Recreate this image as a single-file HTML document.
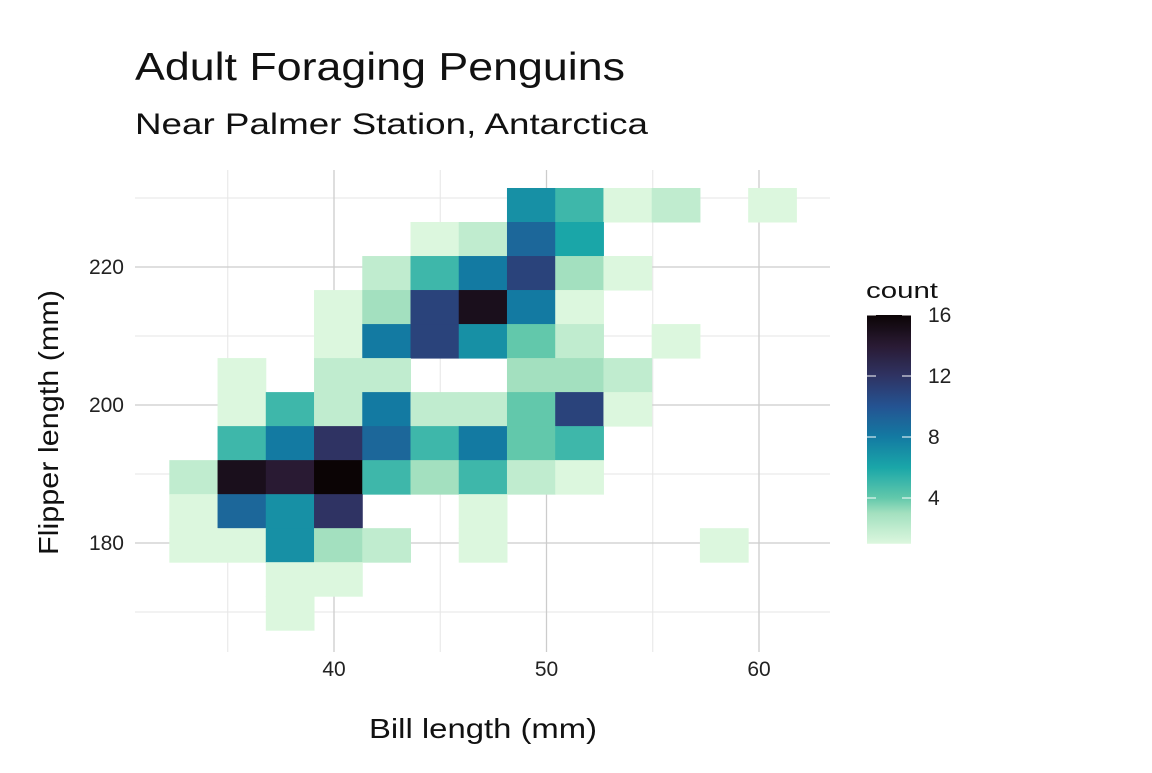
<!DOCTYPE html>
<html><head><meta charset="utf-8"><style>
body{margin:0;background:#fff;}
svg text{font-family:"Liberation Sans",sans-serif;}
</style></head><body>
<svg id="chart" width="1152" height="768" xmlns="http://www.w3.org/2000/svg">
<text x="135" y="80" font-size="39" fill="#111" textLength="490" lengthAdjust="spacingAndGlyphs">Adult Foraging Penguins</text>
<text x="135" y="134" font-size="30" fill="#111" textLength="513" lengthAdjust="spacingAndGlyphs">Near Palmer Station, Antarctica</text>
<g id="grid"></g>
<g id="cells"></g>
<g id="axes"></g>
<text x="369" y="738" font-size="28" fill="#111" textLength="228" lengthAdjust="spacingAndGlyphs">Bill length (mm)</text>
<text transform="translate(58,555) rotate(-90)" font-size="28" fill="#111" textLength="265" lengthAdjust="spacingAndGlyphs">Flipper length (mm)</text>
<g id="legend">
<text x="866" y="298" font-size="22" fill="#111" textLength="72" lengthAdjust="spacingAndGlyphs">count</text>
</g>
</svg>
<script>
// bin edges (mm)
const xStart = 32.25, xStep = 2.27;
const yTop = 231.45, yStep = 4.93;
// counts per row (top to bottom), per column
const rowCounts = [
 [0,0,0,0,0,0,0,7,5,1,2,0,1],
 [0,0,0,0,0,1,2,9,6,0,0,0,0],
 [0,0,0,0,2,5,8,11,3,1,0,0,0],
 [0,0,0,1,3,11,15,8,1,0,0,0,0],
 [0,0,0,1,8,11,7,4,2,0,1,0,0],
 [0,1,0,2,2,0,0,3,3,2,0,0,0],
 [0,1,5,2,8,2,2,4,11,1,0,0,0],
 [0,5,8,12,9,5,8,4,5,0,0,0,0],
 [2,15,14,16,5,3,5,2,1,0,0,0,0],
 [1,9,7,12,0,0,1,0,0,0,0,0,0],
 [1,1,7,3,2,0,1,0,0,0,0,1,0],
 [0,0,1,1,0,0,0,0,0,0,0,0,0],
 [0,0,1,0,0,0,0,0,0,0,0,0,0]
];
const xTicks = [40,50,60];
const xMinor = [35,45,55];
const yTicks = [180,200,220];
const yMinor = [170,190,210,230];
const legendTicks = [4,8,12,16];
const countMin = 1, countMax = 16;

const X = v => 334 + (v-40)*21.25;
const Y = v => 267 - (v-220)*6.9;
const NS = "http://www.w3.org/2000/svg";
function mk(tag, attrs, parent){const e=document.createElementNS(NS,tag);for(const k in attrs)e.setAttribute(k,attrs[k]);parent.appendChild(e);return e;}
const stops=[[1,[220,247,222]],[3,[163,224,191]],[4,[98,200,171]],[6,[26,166,168]],[8,[19,122,162]],[10,[36,83,146]],[12,[47,51,99]],[14,[41,26,51]],[16,[11,4,5]]];
function col(c){for(let i=0;i<stops.length-1;i++){const a=stops[i],b=stops[i+1];if(c<=b[0]){const t=Math.max(0,(c-a[0])/(b[0]-a[0]));const r=a[1].map((v,j)=>Math.round(v+(b[1][j]-v)*t));return `rgb(${r})`;}}return 'rgb(11,4,5)';}

const grid=document.getElementById('grid');
xMinor.forEach(v=>{const l=mk('line',{x1:X(v),x2:X(v),y1:170,y2:652,stroke:'#e6e6e6','stroke-width':1},grid);});
yMinor.forEach(v=>{const l=mk('line',{x1:135,x2:830,y1:Y(v),y2:Y(v),stroke:'#e6e6e6','stroke-width':1},grid);});
xTicks.forEach(v=>{const l=mk('line',{x1:X(v),x2:X(v),y1:170,y2:652,stroke:'#cccccc','stroke-width':1.3},grid);});
yTicks.forEach(v=>{const l=mk('line',{x1:135,x2:830,y1:Y(v),y2:Y(v),stroke:'#cccccc','stroke-width':1.3},grid);});

const cells=document.getElementById('cells');
rowCounts.forEach((row,r)=>row.forEach((c,ci)=>{if(!c)return;
 const x0=X(xStart+ci*xStep),x1=X(xStart+(ci+1)*xStep),y0=Y(yTop-r*yStep),y1=Y(yTop-(r+1)*yStep);
 const e=mk('rect',{x:x0,y:y0,width:x1-x0+0.5,height:y1-y0+0.5,fill:col(c)},cells);
 
 
}));

const axes=document.getElementById('axes');
xTicks.forEach(v=>{const t=mk('text',{x:X(v),y:676,'font-size':21,'text-anchor':'middle',fill:'#222'},axes);t.textContent=v;});
yTicks.forEach(v=>{const t=mk('text',{x:124,y:Y(v)+7,'font-size':21,'text-anchor':'end',fill:'#222'},axes);t.textContent=v;});

const leg=document.getElementById('legend');
const L=v=>543.75-(v-1)*15.25;
const defs=mk('defs',{},leg);
const g=mk('linearGradient',{id:'lg',x1:0,y1:1,x2:0,y2:0},defs);
for(let v=countMin;v<=countMax;v+=0.5){mk('stop',{offset:(v-countMin)/(countMax-countMin),'stop-color':col(v)},g);}
const bar=mk('rect',{x:867,y:L(countMax),width:44,height:L(countMin)-L(countMax),fill:'url(#lg)'},leg);


legendTicks.forEach(v=>{
 [[867,876],[902,911]].forEach(p=>{const l=mk('line',{x1:p[0],x2:p[1],y1:L(v),y2:L(v),stroke:'#fff','stroke-width':1},leg);});
 const t=mk('text',{x:928,y:L(v)+7,'font-size':21,fill:'#222'},leg);t.textContent=v;
 
 
});
</script>
</body></html>
